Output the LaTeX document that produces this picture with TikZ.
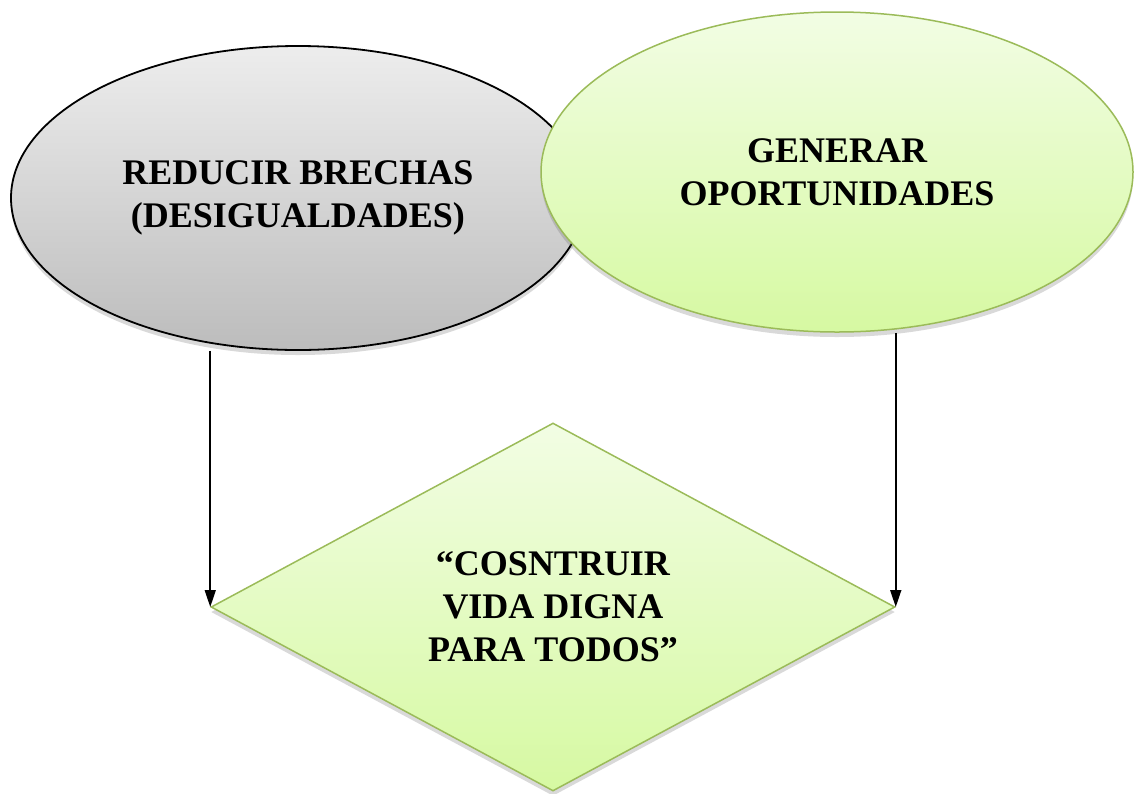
\documentclass[tikz,border=0pt]{standalone}
\usepackage{fontspec}
\setmainfont{Liberation Serif}
\usetikzlibrary{shapes.geometric,shadows,arrows.meta}
\definecolor{verdeborde}{RGB}{155,187,89}
\definecolor{verdearriba}{RGB}{242,253,228}
\definecolor{verdeabajo}{RGB}{214,249,162}
\definecolor{grisarriba}{RGB}{237,237,237}
\definecolor{grisabajo}{RGB}{188,188,188}
\tikzset{
	texto/.style={font=\bfseries\fontsize{36}{43}\selectfont, align=center, text=black},
	sombra/.style={drop shadow={shadow xshift=0pt, shadow yshift=-5pt, opacity=0.25, fill=black!60}},
	gris/.style={ellipse, draw=black, line width=1.8pt, top color=grisarriba, bottom color=grisabajo, sombra, texto},
	verde/.style={draw=verdeborde, line width=1.5pt, top color=verdearriba, bottom color=verdeabajo, sombra, texto},
	flecha/.style={-{Triangle[length=17pt,width=11pt]}, line width=1.7pt}
}
\begin{document}
\begin{tikzpicture}[x=1pt,y=-1pt]
		%%%%% MARCO %%%%%
		\useasboundingbox (0,0) rectangle (1134,793);
		
		%%%%% ELIPSES %%%%%
		\node[gris, minimum width=574pt, minimum height=304pt] (brechas) at (298,198) {REDUCIR BRECHAS\\(DESIGUALDADES)};
		\node[verde, ellipse, minimum width=592pt, minimum height=320pt] (oportunidades) at (837,172) {GENERAR\\OPORTUNIDADES};
		
		%%%%% ROMBO %%%%%
		\node[verde, diamond, aspect=1.86, inner sep=0pt, minimum width=684pt, minimum height=368pt] (vida) at (553,607) {“COSNTRUIR\\VIDA DIGNA\\PARA TODOS”};
		
		%%%%% FLECHAS %%%%%
		\draw[flecha] (brechas.south -| vida.west) -- (vida.west);
		\draw[flecha] (oportunidades.south -| vida.east) -- (vida.east);
\end{tikzpicture}
\end{document}
